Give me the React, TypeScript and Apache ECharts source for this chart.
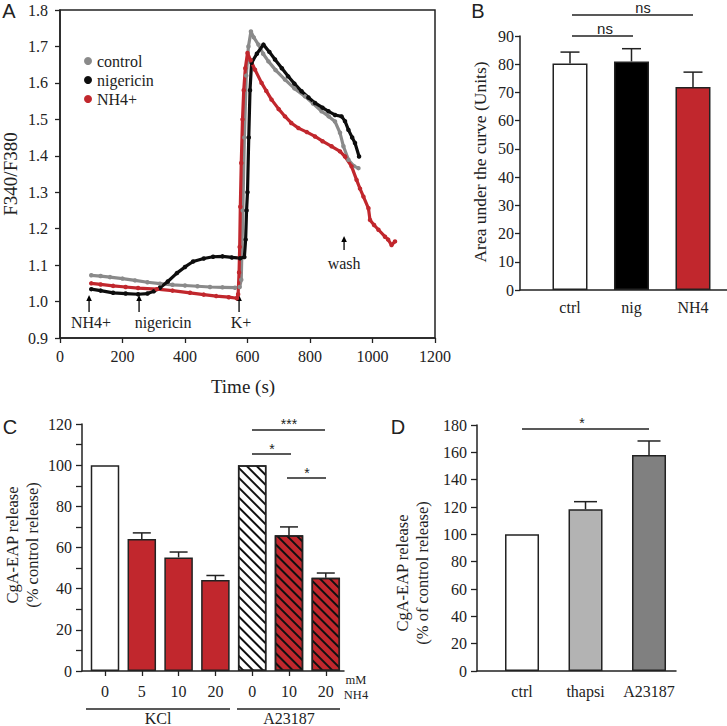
import React, { useEffect, useRef } from "react";
import * as echarts from "echarts";

// ---------- Panel A data (time s, F340/F380) ----------
const controlTrace: number[][] = [
  [100, 1.072], [130, 1.070], [160, 1.067], [200, 1.063], [240, 1.058], [280, 1.053], [320, 1.049],
  [360, 1.046], [400, 1.044], [440, 1.042], [480, 1.040], [520, 1.039], [560, 1.038], [575, 1.040],
  [580, 1.06], [585, 1.25], [590, 1.45], [596, 1.62], [603, 1.70], [611, 1.741], [620, 1.725],
  [635, 1.705], [650, 1.680], [667, 1.659], [690, 1.635], [720, 1.609], [750, 1.585], [784, 1.563],
  [810, 1.543], [837, 1.522], [860, 1.508], [880, 1.494], [896, 1.463], [907, 1.426], [923, 1.389],
  [940, 1.372], [955, 1.366],
];
const nigericinTrace: number[][] = [
  [100, 1.034], [130, 1.030], [170, 1.024], [210, 1.022], [250, 1.020], [280, 1.022], [300, 1.028],
  [320, 1.038], [345, 1.055], [374, 1.078], [400, 1.095], [426, 1.110], [460, 1.118], [490, 1.123],
  [520, 1.124], [550, 1.121], [576, 1.119], [590, 1.122], [594, 1.17], [597, 1.25], [600, 1.30],
  [604, 1.45], [608, 1.58], [613, 1.655], [630, 1.680], [651, 1.705], [670, 1.685], [688, 1.664],
  [710, 1.640], [730, 1.618], [750, 1.598], [773, 1.577], [795, 1.560], [816, 1.545], [840, 1.532],
  [859, 1.522], [880, 1.512], [901, 1.508], [912, 1.495], [923, 1.471], [935, 1.450], [944, 1.435],
  [957, 1.398],
];
const nh4Trace: number[][] = [
  [100, 1.050], [130, 1.047], [170, 1.043], [210, 1.040], [250, 1.037], [310, 1.034], [360, 1.030],
  [416, 1.024], [460, 1.019], [500, 1.015], [540, 1.012], [566, 1.009], [570, 1.02], [573, 1.08],
  [575, 1.15], [577, 1.26], [580, 1.38], [584, 1.50], [588, 1.58], [593, 1.64], [600, 1.682],
  [610, 1.662], [624, 1.636], [645, 1.600], [660, 1.578], [677, 1.554], [700, 1.528], [720, 1.508],
  [740, 1.490], [763, 1.476], [790, 1.465], [816, 1.453], [840, 1.440], [869, 1.426], [896, 1.412],
  [912, 1.398], [933, 1.371], [949, 1.334], [960, 1.31], [971, 1.288], [987, 1.256], [992, 1.224],
  [1005, 1.21], [1019, 1.197], [1040, 1.178], [1050, 1.17], [1061, 1.155], [1072, 1.165],
];
const traceNames = ["control", "nigericin", "NH4+"];
const arrowLabels = ["NH4+", "nigericin", "K+", "wash"];
const arrowTimes = [93, 253, 573, 909];

// ---------- Panel B ----------
const bCats = ["ctrl", "nig", "NH4"];
const bMeans = [80.3, 81.0, 71.9];
const bErr = [4.0, 4.5, 5.3];

// ---------- Panel C ----------
const cCats = ["0", "5", "10", "20", "0", "10", "20"];
const cMeans = [100, 64.1, 55.2, 44.2, 100, 65.9, 45.3];
const cErr = [0, 3.0, 2.6, 2.2, 0, 4.1, 2.3];

// ---------- Panel D ----------
const dCats = ["ctrl", "thapsi", "A23187"];
const dMeans = [100, 118.3, 158.1];
const dErr = [0, 5.6, 10.2];

const SERIF = "Liberation Serif";
const SANS = "Liberation Sans";
const INK = "#222";
const RED = "#c1272d";

const errRender = (cap: number) => (params: any, api: any) => {
  const x = api.value(0), v = api.value(1), e = api.value(2);
  if (!e) return { type: "group", children: [] };
  const p0 = api.coord([x, v]);
  const p1 = api.coord([x, v + e]);
  const st = { stroke: INK, lineWidth: 1.5 };
  return {
    type: "group",
    children: [
      { type: "line", shape: { x1: p0[0], y1: p0[1], x2: p1[0], y2: p1[1] }, style: st },
      { type: "line", shape: { x1: p1[0] - cap, y1: p1[1], x2: p1[0] + cap, y2: p1[1] }, style: st },
    ],
  };
};

const hatch = {
  symbol: "rect",
  symbolSize: 1,
  color: "#111",
  dashArrayX: [1, 0],
  dashArrayY: [1.4, 4.6],
  rotation: Math.PI / 4,
};

export default function App() {
  const ref = useRef<HTMLDivElement>(null);
  useEffect(() => {
    if (!ref.current) return;
    const chart = echarts.init(ref.current, undefined, { renderer: "svg" });

    const axA = (t: number) => 60 + (t * 375) / 1200;
    const axisLine = { show: true, onZero: false, lineStyle: { color: INK, width: 1.5 } };
    const tickLabel = { color: INK, fontFamily: SERIF, fontSize: 16 };

    const graphics: any[] = [];
    const txt = (x: number, y: number, text: string, size: number, font = SERIF, extra: any = {}) => ({
      type: "text",
      x,
      y,
      ...extra,
      style: { text, fill: INK, font: `${size}px "${font}"`, textAlign: "center", textVerticalAlign: "middle" },
    });
    const hline = (x1: number, x2: number, y: number) => ({
      type: "line",
      shape: { x1, y1: y, x2, y2: y },
      style: { stroke: INK, lineWidth: 1.3 },
    });
    // panel letters
    graphics.push(txt(9, 11, "A", 20, SANS));
    graphics.push(txt(478, 11, "B", 20, SANS));
    graphics.push(txt(10, 427, "C", 20, SANS));
    graphics.push(txt(398, 427, "D", 20, SANS));
    // Panel A titles
    graphics.push(txt(10, 174, "F340/F380", 19, SERIF, { rotation: Math.PI / 2 }));
    graphics.push(txt(243, 386, "Time (s)", 19, SERIF));
    // Panel A arrows
    arrowLabels.forEach((lab, i) => {
      const x = axA(arrowTimes[i]);
      const isWash = lab === "wash";
      const yTip = isWash ? 236 : 295;
      const yBot = isWash ? 250 : 312;
      const yText = isWash ? 263 : 322;
      graphics.push({ type: "line", shape: { x1: x, y1: yTip + 4, x2: x, y2: yBot }, style: { stroke: "#000", lineWidth: 1.3 } });
      graphics.push({ type: "polygon", shape: { points: [[x, yTip], [x - 2.8, yTip + 6], [x + 2.8, yTip + 6]] }, style: { fill: "#000" } });
      const dx = lab === "nigericin" ? 24 : lab === "NH4+" ? 2 : lab === "K+" ? 2 : 0;
      graphics.push(txt(x + dx, yText, lab, 16));
    });
    // Panel B
    graphics.push(txt(480, 162, "Area under the curve (Units)", 17.5, SERIF, { rotation: Math.PI / 2 }));
    graphics.push(hline(572, 633, 36));
    graphics.push(txt(605, 28, "ns", 15, SANS));
    graphics.push(hline(572, 693, 15));
    graphics.push(txt(643, 7.5, "ns", 14.5, SANS));
    // Panel C
    graphics.push(txt(12, 545, "CgA-EAP release", 16.5, SERIF, { rotation: Math.PI / 2 }));
    graphics.push(txt(32, 545, "(% control release)", 16.5, SERIF, { rotation: Math.PI / 2 }));
    graphics.push(hline(252, 325, 430));
    graphics.push(txt(289, 424, "***", 14, SANS));
    graphics.push(hline(252, 291, 454));
    graphics.push(txt(272, 449, "*", 14, SANS));
    graphics.push(hline(287, 326, 478));
    graphics.push(txt(307, 473, "*", 14, SANS));
    graphics.push(hline(86, 230, 709));
    graphics.push(hline(237, 340, 709));
    graphics.push(txt(158, 718, "KCl", 16));
    graphics.push(txt(289, 718, "A23187", 16));
    graphics.push(txt(356, 680, "mM", 12.5));
    graphics.push(txt(356, 695, "NH4", 12.5));
    // Panel D
    graphics.push(txt(402, 573, "CgA-EAP release", 16.5, SERIF, { rotation: Math.PI / 2 }));
    graphics.push(txt(422, 573, "(% of control release)", 16.5, SERIF, { rotation: Math.PI / 2 }));
    graphics.push(hline(522, 649, 429));
    graphics.push(txt(582, 423, "*", 14, SANS));

    const lineSeries = (name: string, data: number[][], color: string) => ({
      name,
      type: "line",
      xAxisIndex: 0,
      yAxisIndex: 0,
      data,
      symbol: "circle",
      symbolSize: 4.5,
      showSymbol: true,
      itemStyle: { color },
      lineStyle: { color, width: 3.2 },
    });

    const option: any = {
      animation: false,
      backgroundColor: "#fff",
      textStyle: { fontFamily: SERIF },
      legend: {
        data: traceNames,
        orient: "vertical",
        left: 79,
        top: 48,
        icon: "circle",
        itemWidth: 8,
        itemHeight: 8,
        itemGap: 3,
        textStyle: { fontFamily: SERIF, fontSize: 16, color: INK },
      },
      grid: [
        { left: 60, top: 10, width: 375, height: 328, show: true, borderColor: INK, borderWidth: 1.5, backgroundColor: "transparent" },
        { left: 520, top: 36, width: 207, height: 254 },
        { left: 82, top: 424, width: 262, height: 247 },
        { left: 477, top: 425, width: 199, height: 246 },
      ],
      xAxis: [
        {
          gridIndex: 0, type: "value", min: 0, max: 1200, interval: 200,
          axisLine, axisTick: { length: 5, lineStyle: { color: INK, width: 1.3 } },
          axisLabel: { ...tickLabel, margin: 10, formatter: (v: number) => String(v) }, splitLine: { show: false },
        },
        {
          gridIndex: 1, type: "value", min: -0.813, max: 2.553,
          axisLine, axisTick: { show: false },
          axisLabel: { ...tickLabel, margin: 9, customValues: [0, 1, 2], formatter: (v: number) => bCats[Math.round(v)] },
          splitLine: { show: false },
        },
        {
          gridIndex: 2, type: "value", min: -0.625, max: 6.495,
          axisLine, axisTick: { customValues: [0, 1, 2, 3, 4, 5, 6], length: 5, lineStyle: { color: INK, width: 1.3 } },
          axisLabel: { ...tickLabel, margin: 12, customValues: [0, 1, 2, 3, 4, 5, 6], formatter: (v: number) => cCats[Math.round(v)] },
          splitLine: { show: false },
        },
        {
          gridIndex: 3, type: "value", min: -0.709, max: 2.425,
          axisLine, axisTick: { show: false },
          axisLabel: { ...tickLabel, margin: 12, customValues: [0, 1, 2], formatter: (v: number) => dCats[Math.round(v)] },
          splitLine: { show: false },
        },
      ],
      yAxis: [
        {
          gridIndex: 0, type: "value", min: 0.9, max: 1.8, interval: 0.1,
          axisLine, axisTick: { show: true, length: 5, lineStyle: { color: INK, width: 1.3 } },
          axisLabel: { ...tickLabel, margin: 12, formatter: (v: number) => v.toFixed(1) },
          splitLine: { show: false },
        },
        {
          gridIndex: 1, type: "value", min: 0, max: 90, interval: 10,
          axisLine, axisTick: { show: true, length: 5, lineStyle: { color: INK, width: 1.3 } },
          axisLabel: { ...tickLabel, margin: 6 }, splitLine: { show: false },
        },
        {
          gridIndex: 2, type: "value", min: 0, max: 120, interval: 10,
          axisLine, axisTick: { show: true, length: 6, lineStyle: { color: INK, width: 1.3 } },
          axisLabel: { ...tickLabel, margin: 10, formatter: (v: number) => (v % 20 === 0 ? String(v) : "") },
          splitLine: { show: false },
        },
        {
          gridIndex: 3, type: "value", min: 0, max: 180, interval: 20,
          axisLine, axisTick: { show: true, length: 6, lineStyle: { color: INK, width: 1.3 } },
          axisLabel: { ...tickLabel, margin: 10 }, splitLine: { show: false },
        },
      ],
      series: [
        lineSeries(traceNames[0], controlTrace, "#8a8a8a"),
        lineSeries(traceNames[1], nigericinTrace, "#0d0d0d"),
        lineSeries(traceNames[2], nh4Trace, RED),
        // B bars
        {
          type: "bar", xAxisIndex: 1, yAxisIndex: 1, barWidth: 35,
          data: bMeans.map((m, i) => ({
            value: [i, m],
            itemStyle: { color: ["#ffffff", "#000000", RED][i], borderColor: INK, borderWidth: 1.5 },
          })),
        },
        {
          type: "custom", xAxisIndex: 1, yAxisIndex: 1, renderItem: errRender(9.5), z: 3,
          data: bMeans.map((m, i) => [i, m, bErr[i]]),
        },
        // C bars
        {
          type: "bar", xAxisIndex: 2, yAxisIndex: 2, barWidth: 28.5,
          data: cMeans.map((m, i) => ({
            value: [i, m],
            itemStyle: {
              color: i === 0 || i === 4 ? "#ffffff" : RED,
              borderColor: INK,
              borderWidth: 1.5,
              ...(i >= 4 ? { decal: hatch } : {}),
            },
          })),
        },
        {
          type: "custom", xAxisIndex: 2, yAxisIndex: 2, renderItem: errRender(9), z: 3,
          data: cMeans.map((m, i) => [i, m, cErr[i]]),
        },
        // D bars
        {
          type: "bar", xAxisIndex: 3, yAxisIndex: 3, barWidth: 34,
          data: dMeans.map((m, i) => ({
            value: [i, m],
            itemStyle: { color: ["#ffffff", "#b3b3b3", "#808080"][i], borderColor: INK, borderWidth: 1.5 },
          })),
        },
        {
          type: "custom", xAxisIndex: 3, yAxisIndex: 3, renderItem: errRender(11.5), z: 3,
          data: dMeans.map((m, i) => [i, m, dErr[i]]),
        },
      ],
      graphic: graphics,
    };
    chart.setOption(option);
    return () => chart.dispose();
  }, []);
  return <div ref={ref} style={{ position: "fixed", left: 0, top: 0, width: 727, height: 726, background: "#fff" }} />;
}
